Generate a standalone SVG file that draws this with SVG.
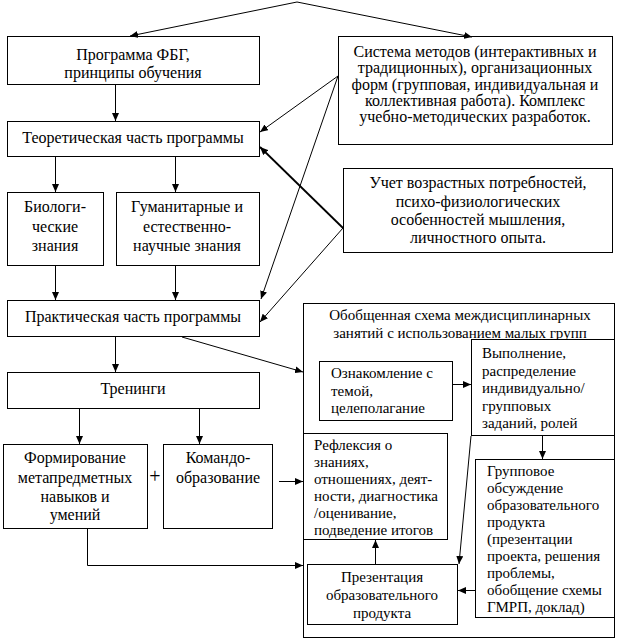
<svg xmlns="http://www.w3.org/2000/svg" width="620" height="641" viewBox="0 0 620 641">
<defs>
<style>
.box{fill:#fff;stroke:#000;stroke-width:1}
text{font-family:'Liberation Serif','Times New Roman',serif;font-size:16px;fill:#000}
.c{text-anchor:middle}
.s{font-size:15px}
.ln{fill:none;stroke:#000;stroke-width:1}
.thick{stroke-width:1.8}
</style>
<marker id="ar" viewBox="0 0 8 7" refX="8" refY="3.5" markerWidth="8" markerHeight="7" markerUnits="userSpaceOnUse" orient="auto">
<path d="M0,0 L8,3.5 L0,7 z" fill="#000"/>
</marker>
</defs>
<rect width="620" height="641" fill="#fff"/>

<g id="big">
<rect class="box" x="303.5" y="303.5" width="311" height="334"/>
<text class="c s" x="460" y="320">Обобщенная схема междисциплинарных</text>
<text class="c s" x="460" y="338">занятий с использованием малых групп</text>
</g>

<g id="prog">
<rect class="box" x="7.5" y="36.5" width="252" height="48"/>
<text class="c" x="133" y="60">Программа ФБГ,</text>
<text class="c" x="133" y="78">принципы обучения</text>
</g>

<g id="sys">
<rect class="box" x="338.5" y="36.5" width="274" height="108"/>
<text class="c" x="475" y="57">Система методов (интерактивных и</text>
<text class="c" x="475" y="73">традиционных), организационных</text>
<text class="c" x="475" y="90">форм (групповая, индивидуальная и</text>
<text class="c" x="475" y="106">коллективная работа). Комплекс</text>
<text class="c" x="475" y="122">учебно-методических разработок.</text>
</g>

<g id="teor">
<rect class="box" x="7.5" y="121.5" width="252" height="35"/>
<text class="c" x="133" y="143">Теоретическая часть программы</text>
</g>

<g id="bio">
<rect class="box" x="7.5" y="192.5" width="96" height="73"/>
<text class="c" x="55" y="212">Биологи-</text>
<text class="c" x="55" y="232">ческие</text>
<text class="c" x="55" y="251">знания</text>
</g>

<g id="gum">
<rect class="box" x="116.5" y="192.5" width="143" height="73"/>
<text class="c" x="187" y="212">Гуманитарные и</text>
<text class="c" x="187" y="232">естественно-</text>
<text class="c" x="187" y="251">научные знания</text>
</g>

<g id="uchet">
<rect class="box" x="343.5" y="168.5" width="269" height="84"/>
<text class="c" x="478" y="188">Учет возрастных потребностей,</text>
<text class="c" x="478" y="207">психо-физиологических</text>
<text class="c" x="478" y="225">особенностей мышления,</text>
<text class="c" x="478" y="243">личностного опыта.</text>
</g>

<g id="prakt">
<rect class="box" x="7.5" y="300.5" width="252" height="36"/>
<text class="c" x="133" y="322">Практическая часть программы</text>
</g>

<g id="trening">
<rect class="box" x="7.5" y="372.5" width="252" height="36"/>
<text class="c" x="133" y="394">Тренинги</text>
</g>

<g id="form">
<rect class="box" x="3.5" y="444.5" width="144" height="84"/>
<text class="c" x="75" y="463">Формирование</text>
<text class="c" x="75" y="483">метапредметных</text>
<text class="c" x="75" y="502">навыков и</text>
<text class="c" x="75" y="520">умений</text>
</g>

<g id="plus">
<text class="c" x="155" y="483" style="font-size:20px">+</text>
</g>

<g id="komando">
<rect class="box" x="163.5" y="444.5" width="109" height="84"/>
<text class="c" x="218" y="463">Командо-</text>
<text class="c" x="218" y="483">образование</text>
</g>

<g id="oznak">
<rect class="box" x="319.5" y="361.5" width="133" height="59"/>
<text class="s" x="331" y="378">Ознакомление с</text>
<text class="s" x="331" y="396">темой,</text>
<text class="s" x="331" y="413">целеполагание</text>
</g>

<g id="vypol">
<rect class="box" x="471.5" y="339.5" width="143" height="96"/>
<text class="s" x="482" y="358">Выполнение,</text>
<text class="s" x="482" y="376">распределение</text>
<text class="s" x="482" y="393">индивидуально/</text>
<text class="s" x="482" y="411">групповых</text>
<text class="s" x="482" y="428">заданий,  ролей</text>
</g>

<g id="gruppa">
<rect class="box" x="475.5" y="459.5" width="139" height="158"/>
<text class="s" x="487" y="476">Групповое</text>
<text class="s" x="487" y="493">обсуждение</text>
<text class="s" x="487" y="510">образовательного</text>
<text class="s" x="487" y="527">продукта</text>
<text class="s" x="487" y="544">(презентации</text>
<text class="s" x="487" y="561">проекта, решения</text>
<text class="s" x="487" y="578">проблемы,</text>
<text class="s" x="487" y="595">обобщение схемы</text>
<text class="s" x="487" y="612">ГМРП, доклад)</text>
</g>

<g id="reflex">
<rect class="box" x="303.5" y="433.5" width="144" height="106"/>
<text class="s" x="314" y="450">Рефлексия  о</text>
<text class="s" x="314" y="467">знаниях,</text>
<text class="s" x="314" y="484">отношениях, деят-</text>
<text class="s" x="314" y="501">ности, диагностика</text>
<text class="s" x="314" y="518">/оценивание,</text>
<text class="s" x="314" y="535">подведение итогов</text>
</g>

<g id="prez">
<rect class="box" x="307.5" y="564.5" width="150" height="60"/>
<text class="c s" x="382" y="582">Презентация</text>
<text class="c s" x="382" y="600">образовательного</text>
<text class="c s" x="382" y="618">продукта</text>
</g>

<g id="connectors">
<path class="ln" d="M297,2 L130,36" marker-end="url(#ar)"/>
<path class="ln" d="M297,2 L472,37" marker-end="url(#ar)"/>
<path class="ln" d="M115.5,85 L115.5,121" marker-end="url(#ar)"/>
<path class="ln" d="M338,76 L260,132" marker-end="url(#ar)"/>
<path class="ln" d="M338,76 L261,299" marker-end="url(#ar)"/>
<path class="ln thick" d="M343,228 L260,147" marker-end="url(#ar)"/>
<path class="ln" d="M343,228 L260,322" marker-end="url(#ar)"/>
<path class="ln" d="M55.5,157 L55.5,192" marker-end="url(#ar)"/>
<path class="ln" d="M175.5,157 L175.5,192" marker-end="url(#ar)"/>
<path class="ln" d="M55.5,266 L55.5,300" marker-end="url(#ar)"/>
<path class="ln" d="M175.5,266 L175.5,300" marker-end="url(#ar)"/>
<path class="ln" d="M115.5,337 L115.5,372" marker-end="url(#ar)"/>
<path class="ln" d="M182,337 L303,372" marker-end="url(#ar)"/>
<path class="ln" d="M79.5,409 L79.5,444" marker-end="url(#ar)"/>
<path class="ln" d="M199.5,409 L199.5,444" marker-end="url(#ar)"/>
<path class="ln" d="M279,481.5 L303,481.5" marker-end="url(#ar)"/>
<path class="ln" d="M87.5,529 L87.5,565.5 L303,565.5" marker-end="url(#ar)"/>
<path class="ln" d="M453,384.5 L471,384.5" marker-end="url(#ar)"/>
<path class="ln" d="M542.5,436 L542.5,459" marker-end="url(#ar)"/>
<path class="ln" d="M471,436 L459,564" marker-end="url(#ar)"/>
<path class="ln" d="M475,590.5 L458,590.5" marker-end="url(#ar)"/>
<path class="ln" d="M375.5,564 L375.5,540" marker-end="url(#ar)"/>
</g>
</svg>
